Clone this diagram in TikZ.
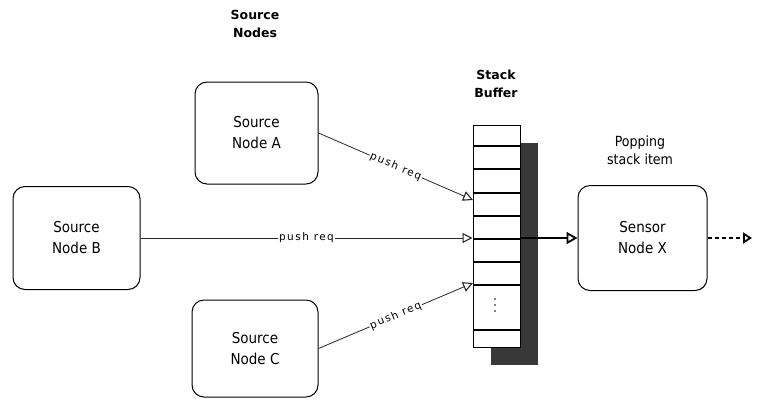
\documentclass[tikz,border=0pt]{standalone}
\usepackage{fontspec}
\setmainfont{DejaVu Sans}
\newfontfamily\condfont{DejaVu Sans Condensed}
\newfontfamily\labelfont[LetterSpace=14]{DejaVu Sans}
\usetikzlibrary{arrows.meta,calc}
\definecolor{shadowgray}{gray}{0.22}
\begin{document}
\begin{tikzpicture}[x=1pt,y=-1pt,
  nodebox/.style={draw=black, line width=1pt, rounded corners=12pt, fill=white,
    align=center, inner sep=0pt, font=\condfont\fontsize{15}{21}\selectfont},
  heading/.style={align=center, font=\bfseries\fontsize{12.5}{18}\selectfont},
  caption/.style={align=center, font=\condfont\fontsize{14}{18}\selectfont},
  reqline/.style={draw=black!85, line width=0.8pt,
    -{Triangle[open, length=10pt, width=10pt, line width=1.1pt]}},
  reqlabel/.style={sloped, fill=white, inner sep=1pt, font=\labelfont\fontsize{10.5}{12}\selectfont},
  popline/.style={line width=2.6pt,
    -{Triangle[open, length=11pt, width=12pt, line width=1.8pt]}},
  forwardline/.style={line width=2.4pt, dash pattern=on 4pt off 3pt,
    -{Triangle[open, length=9pt, width=11pt, line width=1.8pt]}}
]
\useasboundingbox (0,0) rectangle (759,400);

% headings
\node[heading] (hsrc) at (255,24) {Source\\Nodes};
\node[heading] (hstack) at (496,84) {Stack\\Buffer};
\node[caption] (hpop) at (640,150) {Popping\\stack item};

% source nodes and the sensor node
\node[nodebox, minimum width=123pt, minimum height=102pt] (srcA) at (256.5,133) {Source\\Node A};
\node[nodebox, minimum width=127pt, minimum height=103pt] (srcB) at (76.5,238) {Source\\Node B};
\node[nodebox, minimum width=126pt, minimum height=97pt] (srcC) at (255,348.5) {Source\\Node C};
\node[nodebox, minimum width=129pt, minimum height=105pt] (sensX) at (642.5,238) {Sensor\\Node X};

% stack buffer with its shadow
\coordinate (stackNW) at (473,125);
\coordinate (stackSE) at (520,347);
\fill[shadowgray] ($(stackNW)+(18,18)$) rectangle ($(stackSE)+(18,18)$);
\node[draw=black, line width=1pt, fill=white, inner sep=0pt,
  minimum width=47pt, minimum height=222pt] (stack) at (496.5,236) {};
\foreach \yy in {146,169,193,216,239,262,285,330}
  \draw[line width=1.4pt] (stack.west |- 0,\yy) -- (stack.east |- 0,\yy);
\foreach \yy in {299,305,311}
  \fill (495,\yy) circle (0.8pt);

% push requests
\coordinate (inA) at (473,200);
\coordinate (inC) at (473,283);
\draw[reqline] (srcA.east) -- node[reqlabel] {push req} (inA);
\draw[reqline] (srcB.east) -- node[reqlabel] {push req} (stack.west |- srcB.east);
\draw[reqline] (srcC.east) -- node[reqlabel] {push req} (inC);

% popping and forwarding
\draw[popline] (stack.east |- sensX.west) -- (sensX.west);
\coordinate (outX) at (752,238);
\draw[forwardline] (sensX.east) -- (outX);
\end{tikzpicture}
\end{document}
